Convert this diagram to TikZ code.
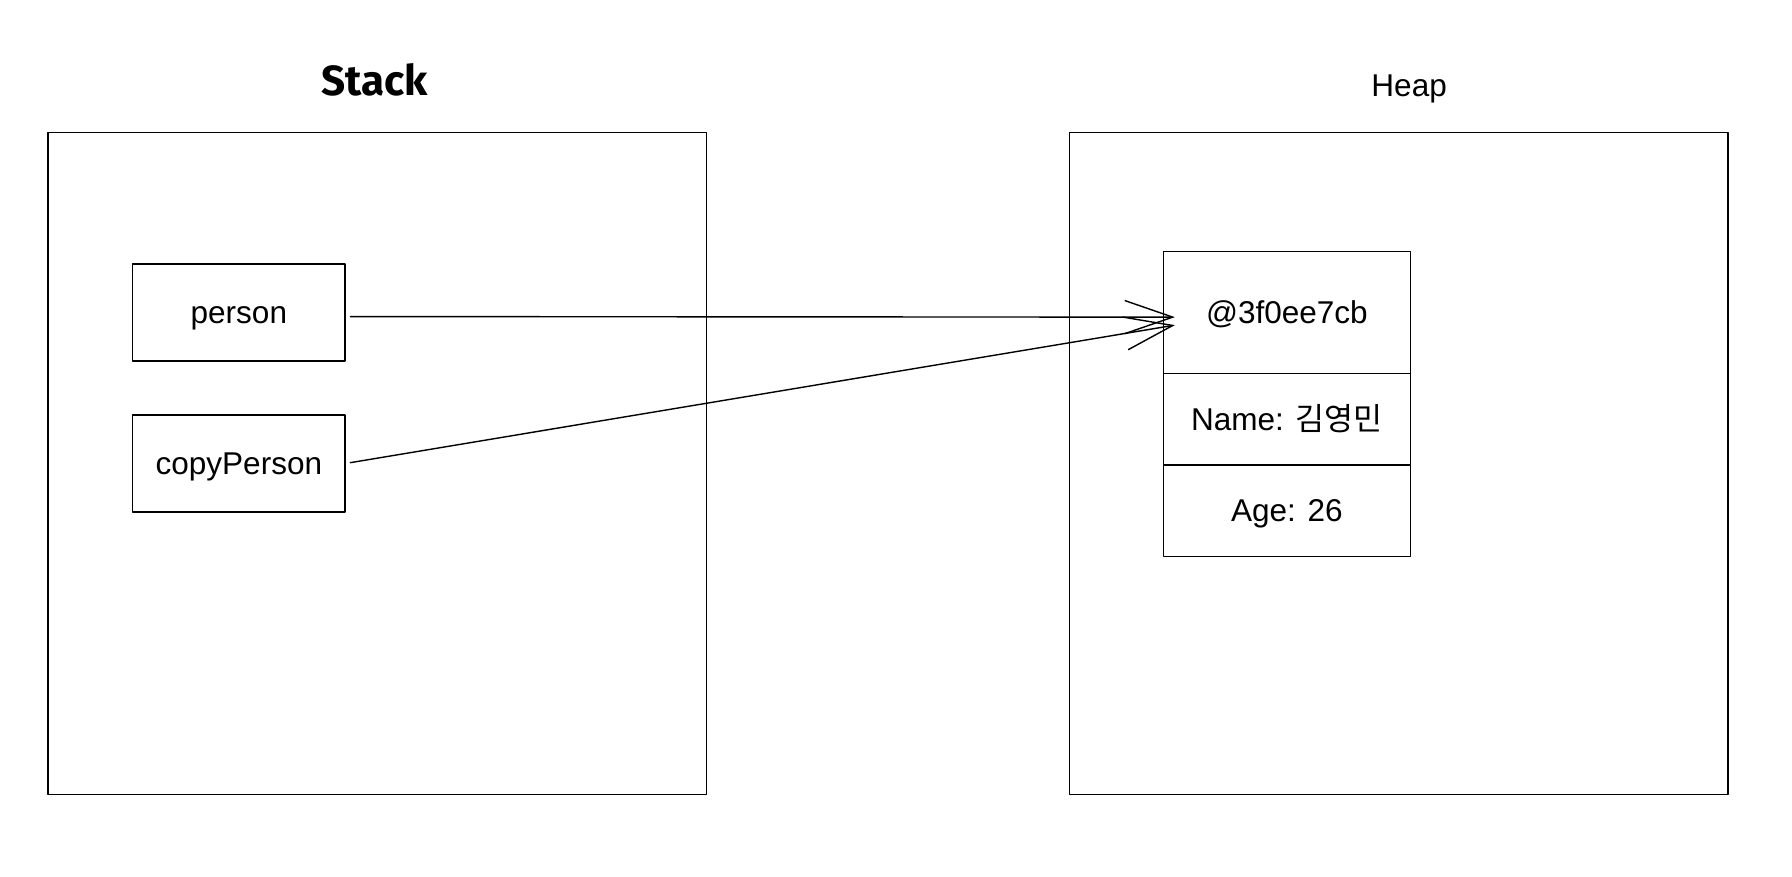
\documentclass[tikz,border=0pt]{standalone}
\usepackage{fontspec}
\setmainfont{Liberation Sans}
\newfontfamily\krfont{Noto Sans CJK KR}
\newfontfamily\handfont{Fira Sans}
\usetikzlibrary{arrows.meta}

\tikzset{
  txt/.style={font=\fontsize{15.7}{19}\selectfont,text height=11.5pt,text depth=0.6pt},
  frame/.style={draw,line width=0.7pt},
  cell/.style={txt,draw,line width=0.7pt,minimum width=4.32cm,inner sep=0pt,outer sep=0pt},
  varbox/.style={txt,draw,line width=0.7pt,minimum width=3.72cm,minimum height=1.70cm,inner sep=0pt},
  ref/.style={line width=0.7pt,-{Straight Barb[length=0.84cm,width=0.58cm,line width=0.7pt]},shorten <=0.08cm}
}

\begin{document}
\begin{tikzpicture}[line cap=round,line join=round]
  \useasboundingbox (0,0) rectangle (31.36,-15.34);
  % the two areas
  \draw[frame] (0.84,-2.32) rectangle (12.36,-13.90);
  \draw[frame] (18.72,-2.32) rectangle (30.24,-13.90);
  \node[font=\handfont\bfseries\fontsize{21}{25}\selectfont] (stacklbl) at (6.56,-1.40) {Stack};
  \node[txt] (heaplbl) at (24.66,-1.50) {Heap};
  % variables on the stack
  \node[varbox] (person) at (4.18,-5.47) {person};
  \node[varbox] (copy) at (4.18,-8.11) {copyPerson};
  % object on the heap
  \node[cell,minimum height=2.14cm] (addr) at (22.52,-5.47) {@3f0ee7cb};
  \node[cell,minimum height=1.60cm,anchor=north] (name) at (addr.south) {Name: {\krfont 김영민}};
  \node[cell,minimum height=1.60cm,anchor=north] (age) at (name.south) {Age: 26};
  \coordinate (tipA) at (20.56,-5.55);
  \coordinate (tipB) at (20.56,-5.69);
  \draw[ref] (person.east |- 0,-5.54) -- (tipA);
  \draw[ref] (copy.east) -- (tipB);
\end{tikzpicture}
\end{document}
